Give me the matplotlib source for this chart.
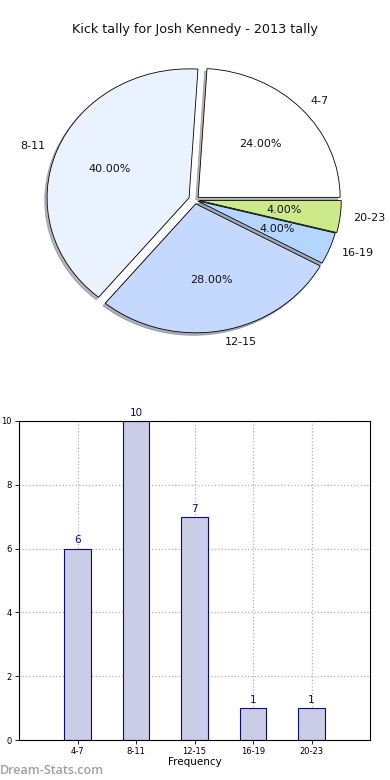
import matplotlib
matplotlib.use("Agg")
import matplotlib.pyplot as plt

categories = ["4-7", "8-11", "12-15", "16-19", "20-23"]
counts = [6, 10, 7, 1, 1]
pie_colors = ["#ffffff", "#eaf1ff", "#c5d9ff", "#b3d6ff", "#cdea8a"]
explode = [0.03, 0.045, 0.03, 0.02, 0.03]

fig = plt.figure(figsize=(3.9, 7.8), dpi=100)
fig.text(0.5, 1 - 30 / 780, "Kick tally for Josh Kennedy - 2013 tally",
         ha="center", va="center", fontsize=9.2, color="#111111")

# Pie (slightly elliptical, as in the reference)
RX, RY = 142.0, 129.0
CX, CY = 195.0, 200.0
axp = fig.add_axes([0, (780 - CY - 200) / 780, 1, 400 / 780])
wedges, texts, autotexts = axp.pie(
    counts, labels=categories, colors=pie_colors, explode=explode,
    autopct="%1.2f%%", startangle=0, counterclock=True,
    shadow={"ox": -0.012, "oy": -0.014, "shade": 0.55},
    labeldistance=1.09, pctdistance=0.6,
    wedgeprops=dict(edgecolor="black", linewidth=0.6),
    textprops=dict(fontsize=8, color="#111111"))
axp.set_aspect("auto")
axp.set_xlim(-CX / RX, (390 - CX) / RX)
axp.set_ylim(-200 / RY, 200 / RY)
axp.axis("off")

# Bar
axb = fig.add_axes([19 / 390, 40 / 780, 351 / 390, 319 / 780])
x = list(range(len(categories)))
axb.bar(x, counts, width=0.45, color="#cbcce6", edgecolor="#0a0a8c",
        linewidth=0.8, zorder=2)
for xi, c in zip(x, counts):
    axb.text(xi, c + 0.1, str(c), ha="center", va="bottom", fontsize=7.5,
             color="#0a0a8c", zorder=3)
axb.set_xlim(-1, 5)
axb.set_ylim(0, 10)
axb.set_xticks(x)
axb.set_xticklabels(categories, fontsize=6)
axb.set_yticks([0, 2, 4, 6, 8, 10])
axb.set_yticklabels(["0", "2", "4", "6", "8", "10"], fontsize=6)
axb.tick_params(length=3, width=0.6, pad=2)
axb.grid(True, linestyle=":", color="#b0b0b0", linewidth=0.9, zorder=0)
axb.set_axisbelow(True)
axb.set_xlabel("Frequency", fontsize=7.5, labelpad=1)
axb.set_ylabel("Kick Tally", fontsize=7.5, labelpad=10)
for s in axb.spines.values():
    s.set_linewidth(0.8)

fig.text(0.0, 1 - 770 / 780, "Dream-Stats.com", fontsize=9, color="#a0a0a0",
         fontweight="semibold", family="Open Sans", ha="left", va="center")

fig.savefig("out.png", dpi=100)
